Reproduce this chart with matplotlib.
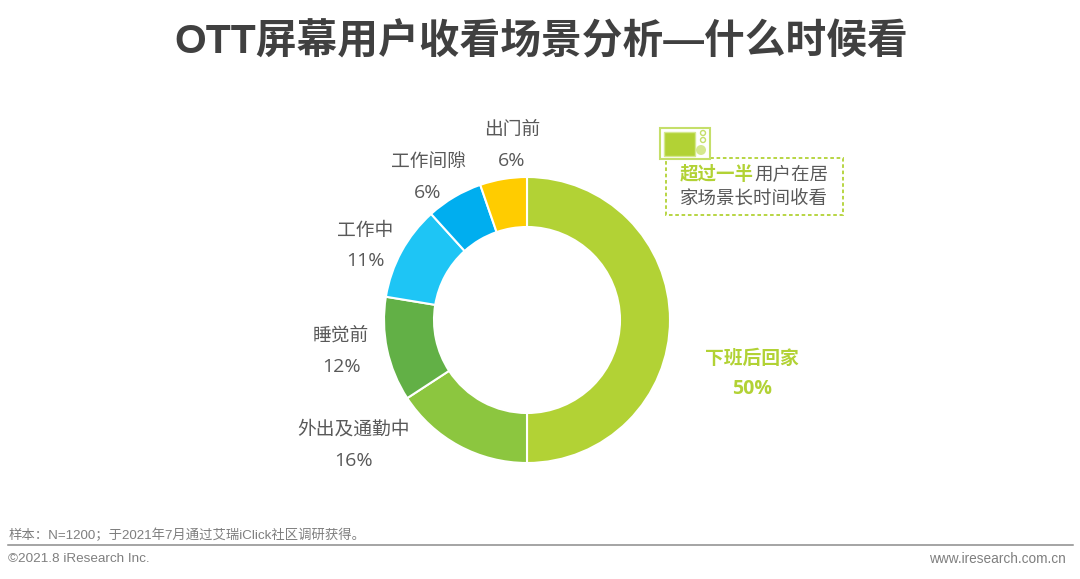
"""OTT screen viewing scenes donut chart."""

import matplotlib
matplotlib.use("Agg")
import matplotlib.pyplot as plt
from matplotlib.patches import Circle, Rectangle, Wedge

LATIN_CJK = ["Liberation Sans", "Noto Sans CJK SC", "DejaVu Sans"]
YAHEI_LIKE = ["Open Sans", "Noto Sans CJK SC", "DejaVu Sans"]
plt.rcParams["font.family"] = YAHEI_LIKE

W, H = 1080, 579
GREEN = "#b2d235"
GREY = "#595959"

labels = ["下班后回家", "外出及通勤中", "睡觉前", "工作中", "工作间隙", "出门前"]
shares = [50, 15.8, 11.8, 10.7, 6.4, 5.3]
share_labels = ["50%", "16%", "12%", "11%", "6%", "6%"]
colors = ["#b2d235", "#8cc63f", "#62b046", "#1ec5f5", "#00aeef", "#ffcc00"]
label_pos = [(752, 359), (354, 430), (341, 336), (365, 231), (428, 162), (512, 130)]

fig = plt.figure(figsize=(W / 100, H / 100), dpi=100)
ax = fig.add_axes([0, 0, 1, 1])
ax.set_xlim(0, W)
ax.set_ylim(H, 0)
ax.axis("off")

ax.text(541, 42, "OTT屏幕用户收看场景分析—什么时候看", ha="center", va="center",
        fontsize=29.3, fontweight="bold", color="#404040", family=LATIN_CJK)

# donut, clockwise from 12 o'clock
total = sum(shares)
cx, cy, r_out, r_in = 527, 320, 143, 93
start = -90.0
for val, col in zip(shares, colors):
    end = start + 360.0 * val / total
    ax.add_patch(Wedge((cx, cy), r_out, start, end, width=r_out - r_in,
                       facecolor=col, edgecolor="white", linewidth=1.5))
    start = end

for i, (name, pct, (x, y)) in enumerate(zip(labels, share_labels, label_pos)):
    first = i == 0
    col = GREEN if first else GREY
    weight = "bold" if first else "normal"
    ax.text(x, y, name, ha="center", va="center", fontsize=13.5, color=col, fontweight=weight)
    ax.text(x, y + 30.5, pct, ha="center", va="center", fontsize=14, color=col, fontweight=weight)

# callout box
ax.add_patch(Rectangle((666, 158), 177, 57, fill=False, edgecolor=GREEN,
                       linewidth=1.3, linestyle=(0, (2, 1.5))))
ax.text(680, 175, "超过一半", ha="left", va="center", fontsize=13.3, color=GREEN, fontweight="bold")
ax.text(680 + 74, 175, "用户在居", ha="left", va="center", fontsize=13.3, color=GREY)
ax.text(680, 199, "家场景长时间收看", ha="left", va="center", fontsize=13.3, color=GREY)

# tv icon
ax.add_patch(Rectangle((660, 128), 50, 31, facecolor="white", edgecolor="#c5df6a", linewidth=1.5))
ax.add_patch(Rectangle((664, 132), 31, 24, facecolor=GREEN, edgecolor="#d5e88f", linewidth=1))
ax.add_patch(Circle((703, 133), 2.5, facecolor="white", edgecolor="#c5df6a", linewidth=1))
ax.add_patch(Circle((703, 140), 2.5, facecolor="white", edgecolor="#c5df6a", linewidth=1))
ax.add_patch(Circle((701, 150), 5, facecolor="#d5e88f", edgecolor="none"))

# footer
ax.text(9, 535.5, "样本：N=1200；于2021年7月通过艾瑞iClick社区调研获得。", ha="left", va="center",
        fontsize=9.6, color="#7f7f7f", family=LATIN_CJK)
ax.plot([8, 1073], [544.5, 544.5], color="#8c8c8c", lw=1.1)
ax.text(8, 559, "©2021.8 iResearch Inc.", ha="left", va="center", fontsize=9.7,
        color="#7f7f7f", family=LATIN_CJK)
ax.text(1066, 559, "www.iresearch.com.cn", ha="right", va="center", fontsize=9.8,
        color="#7f7f7f", family=LATIN_CJK)

fig.savefig("out.png", dpi=100)
